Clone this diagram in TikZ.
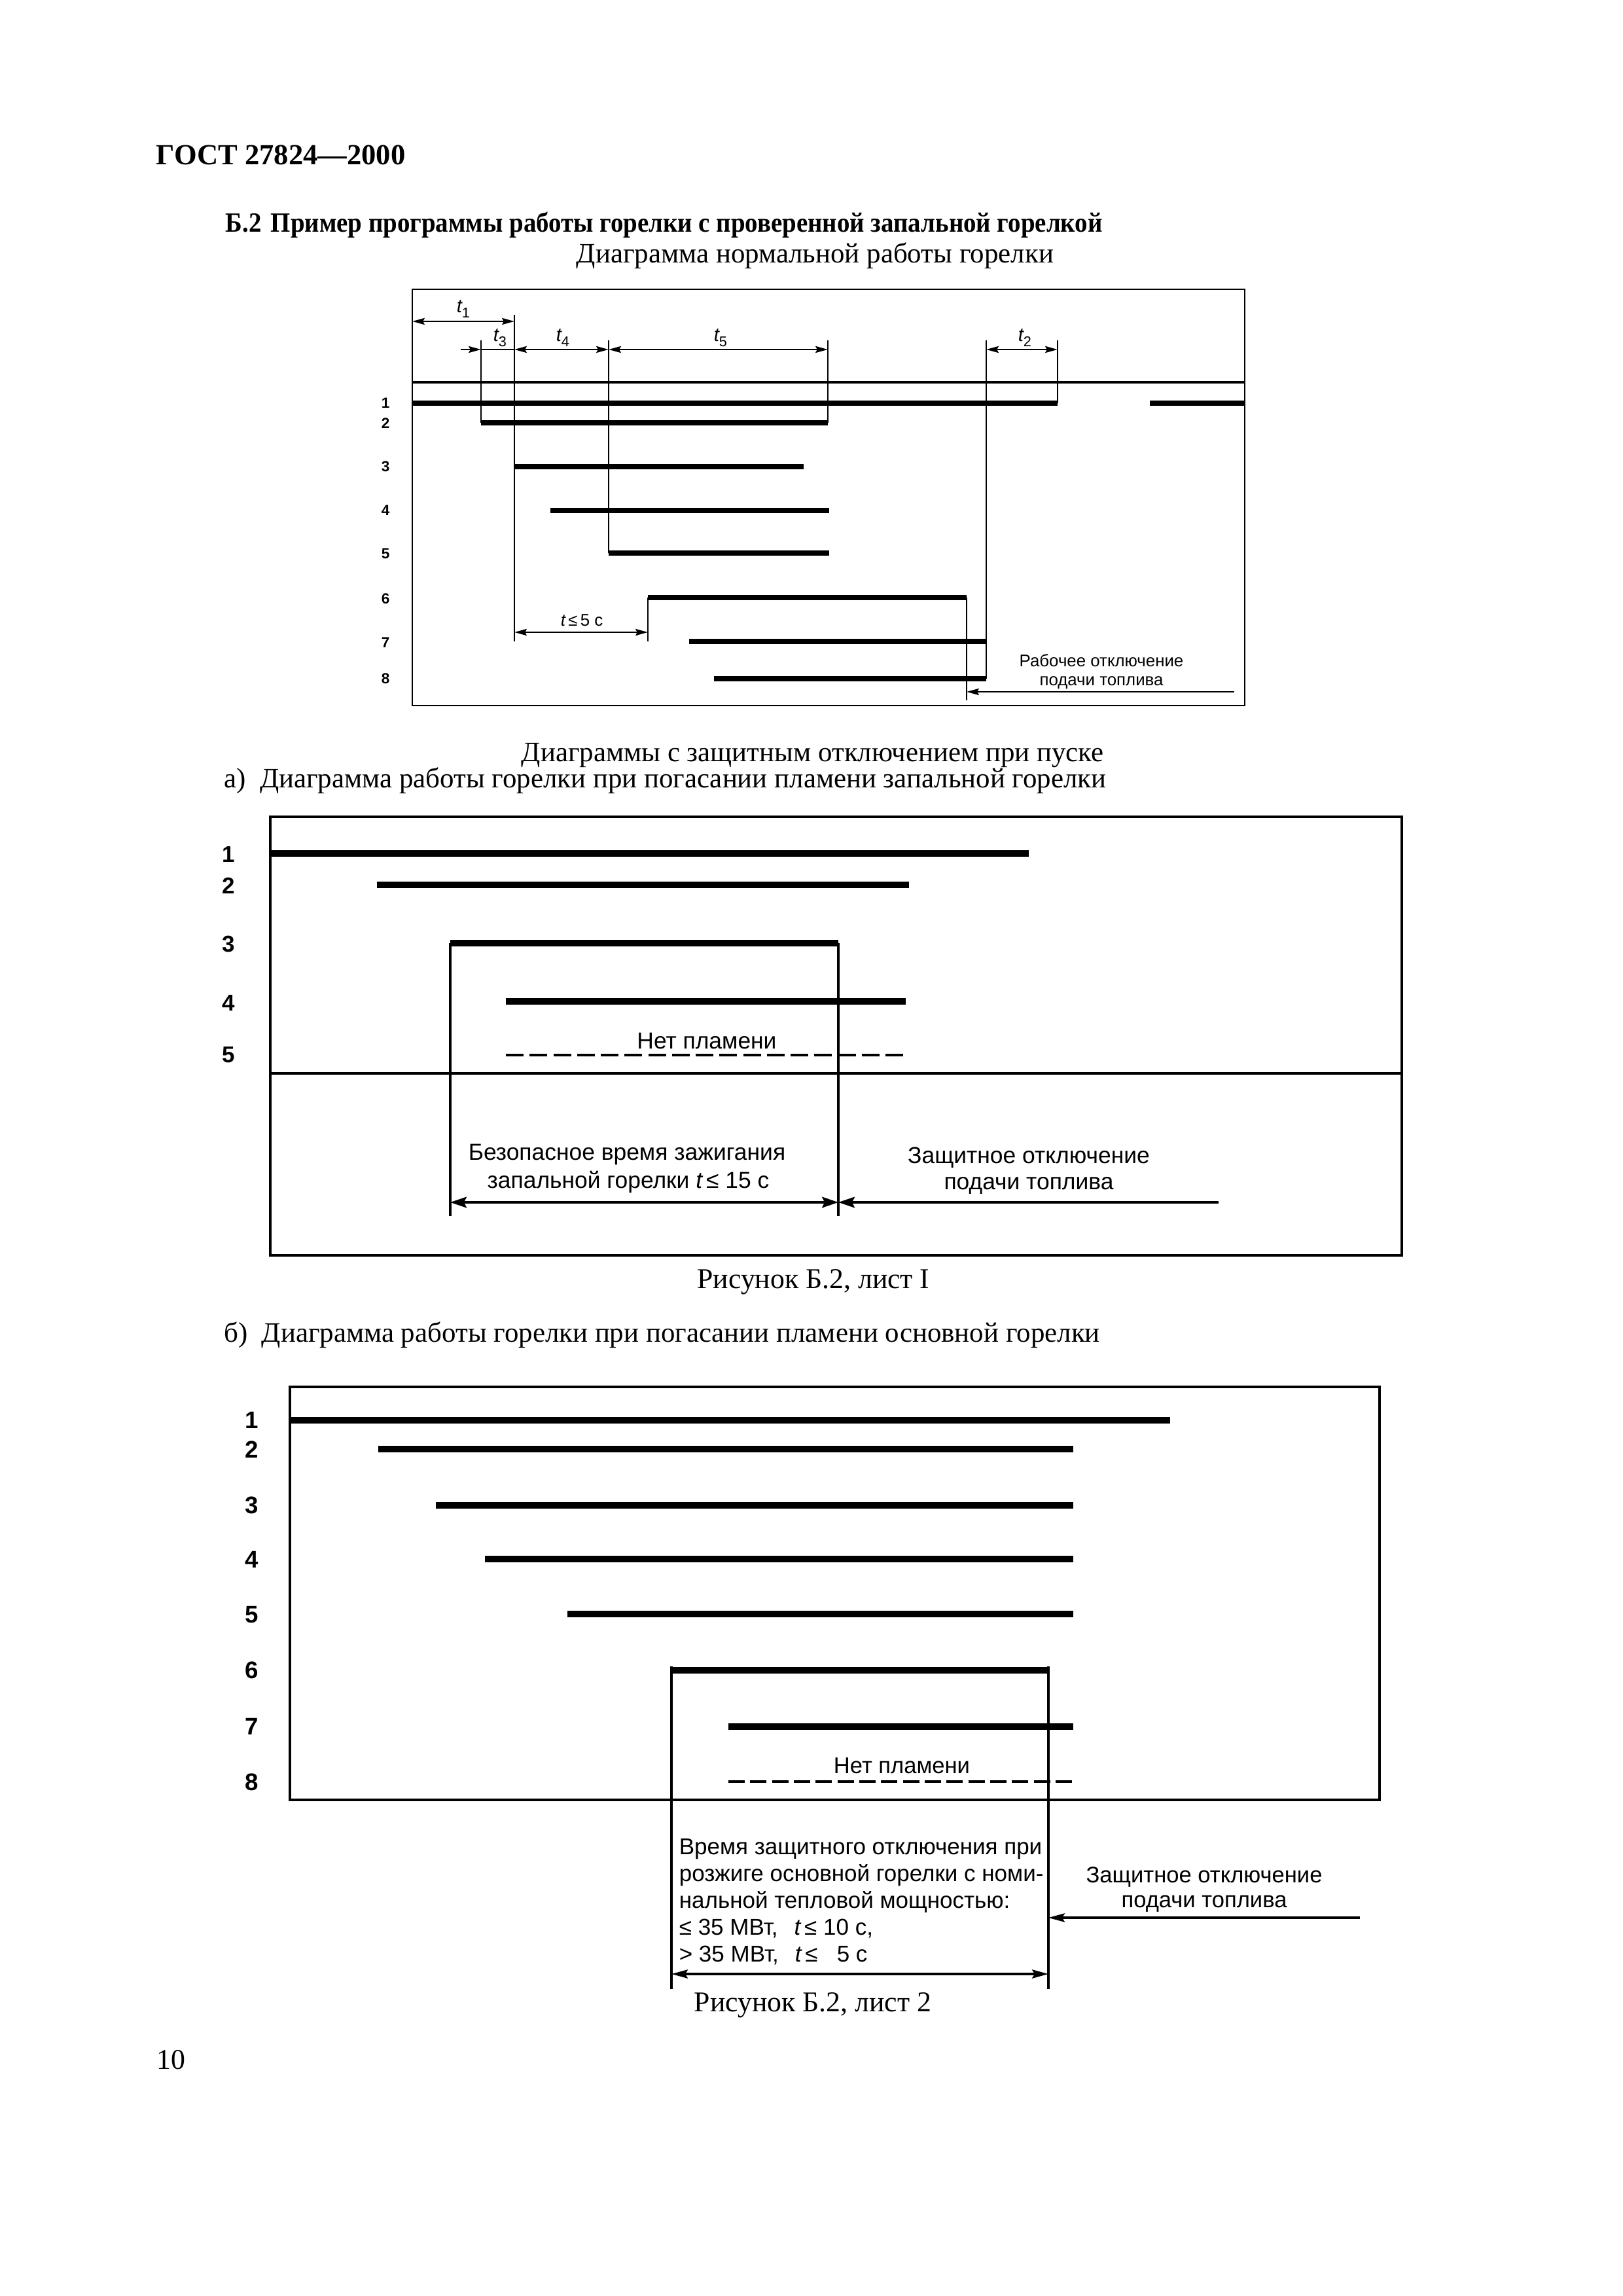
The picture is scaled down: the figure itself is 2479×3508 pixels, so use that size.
\documentclass[tikz,border=0pt]{standalone}
\usepackage{fontspec}
\setmainfont{Liberation Serif}
\newfontfamily\arialf{Liberation Sans}
\newfontfamily\hdfont[FakeStretch=0.915]{Liberation Serif}
\usetikzlibrary{arrows.meta}
\newcommand\tlabel[1]{{\itshape t}\raisebox{-0.5ex}{\fontsize{5.2}{6}\selectfont #1}}
\begin{document}
\begin{tikzpicture}[x=0.24pt,y=-0.24pt,
  frame/.style={line width=0.7pt},
  frameB/.style={line width=0.85pt},
  sep/.style={line width=0.95pt},
  barA/.style={line width=1.75pt},
  barB/.style={line width=2.35pt},
  vthin/.style={line width=0.7pt},
  vthinB/.style={line width=0.75pt},
  dimA/.style={line width=0.65pt,>={Stealth[length=4.5pt,width=2.4pt,inset=0.6pt]}},
  dimB/.style={line width=0.8pt,>={Stealth[length=6pt,width=4pt,inset=1pt]}},
  dimC/.style={line width=0.8pt,>={Stealth[length=6pt,width=3.2pt,inset=1pt]}},
  dashA/.style={line width=1.1pt,dash pattern=on 6.5pt off 2.2pt},
  dashB/.style={line width=1.1pt,dash pattern=on 6pt off 2pt},
  captxt/.style={inner sep=0pt,font=\fontsize{10.5}{12}\selectfont},
  capsm/.style={inner sep=0pt,font=\fontsize{10.3}{12}\selectfont},
  hdtxt/.style={inner sep=0pt,font=\hdfont\bfseries\fontsize{10.2}{12}\selectfont},
  gosttxt/.style={inner sep=0pt,font=\bfseries\fontsize{10.7}{12}\selectfont},
  numA/.style={inner sep=0pt,font=\arialf\bfseries\fontsize{5.4}{6}\selectfont},
  numB/.style={inner sep=0pt,font=\arialf\bfseries\fontsize{8.4}{9}\selectfont},
  numC/.style={inner sep=0pt,font=\arialf\bfseries\fontsize{8.8}{9}\selectfont},
  sA/.style={inner sep=0pt,font=\arialf\fontsize{6.2}{7}\selectfont},
  tl/.style={inner sep=0pt,font=\arialf\fontsize{7}{8}\selectfont},
  sB/.style={inner sep=0pt,font=\arialf\fontsize{8.5}{9}\selectfont},
  sC/.style={inner sep=0pt,font=\arialf\fontsize{8.3}{9}\selectfont},
  sD/.style={inner sep=0pt,font=\arialf\fontsize{8.4}{9}\selectfont}
]
\useasboundingbox (0,0) rectangle (2479,3508);
\fill[white] (0,0) rectangle (2479,3508);

% ---------- headings ----------
\node[gosttxt,anchor=base west] (g) at (238,252) {ГОСТ 27824—2000};
\node[hdtxt,anchor=base west] (h) at (344,355) {Б.2\hspace{3.4pt}Пример программы работы горелки с проверенной запальной горелкой};
\node[capsm,anchor=base west] (c1) at (880,402) {Диаграмма нормальной работы горелки};

% ---------- top diagram ----------
\draw[frame] (630,442) rectangle (1902,1078);
\draw[sep] (630,584) -- (1902,584);
\draw[barA] (630,616) -- (1616,616);
\draw[barA] (1757,616) -- (1902,616);
\draw[barA] (735,646) -- (1265,646);
\draw[barA] (786,713) -- (1228,713);
\draw[barA] (841,780) -- (1267,780);
\draw[barA] (930,845) -- (1267,845);
\draw[barA] (990,913) -- (1477,913);
\draw[barA] (1053,980) -- (1507,980);
\draw[barA] (1091,1037) -- (1507,1037);

\draw[vthin] (786,481) -- (786,980);
\draw[vthin] (735,520) -- (735,646);
\draw[vthin] (930,520) -- (930,845);
\draw[vthin] (1265,520) -- (1265,646);
\draw[vthin] (1507,520) -- (1507,1037);
\draw[vthin] (1616,520) -- (1616,616);
\draw[vthin] (990,913) -- (990,980);
\draw[vthin] (1477,913) -- (1477,1070);

\draw[dimA,<->] (630,491) -- (786,491);
\draw[dimA,->] (704,534) -- (735,534);
\draw[dimA] (735,534) -- (786,534);
\draw[dimA,<->] (786,534) -- (930,534);
\draw[dimA,<->] (930,534) -- (1265,534);
\draw[dimA,<->] (1507,534) -- (1616,534);
\draw[dimA,<->] (786,966) -- (990,966);
\draw[dimA,->] (1886,1057) -- (1477,1057);

\node[tl,anchor=base west] (t1) at (697,478) {\tlabel{1}};
\node[tl,anchor=base west] (t3) at (753,522) {\tlabel{3}};
\node[tl,anchor=base west] (t4) at (849,522) {\tlabel{4}};
\node[tl,anchor=base west] (t5) at (1090,522) {\tlabel{5}};
\node[tl,anchor=base west] (t2) at (1555,522) {\tlabel{2}};
\node[sA,anchor=base] (t5c) at (889,957) {{\itshape t}\,≤\,5 с};
\node[sA,anchor=base] (rab1) at (1683,1018) {Рабочее отключение};
\node[sA,anchor=base] (rab2) at (1683,1047) {подачи топлива};

\node[numA] (n1) at (589,616) {1};
\node[numA] (n2) at (589,647) {2};
\node[numA] (n3) at (589,713) {3};
\node[numA] (n4) at (589,780) {4};
\node[numA] (n5) at (589,846) {5};
\node[numA] (n6) at (589,915) {6};
\node[numA] (n7) at (589,982) {7};
\node[numA] (n8) at (589,1037) {8};

% ---------- captions a) ----------
\node[capsm,anchor=base west] (c2) at (796,1163) {Диаграммы с защитным отключением при пуске};
\node[capsm,anchor=base west] (c3) at (342,1203) {а)\hspace{5pt}Диаграмма работы горелки при погасании пламени запальной горелки};

% ---------- diagram a) ----------
\draw[frameB] (413,1248) rectangle (2142,1918);
\draw[sep] (413,1640) -- (2142,1640);
\draw[barB] (413,1304) -- (1572,1304);
\draw[barB] (576,1352) -- (1389,1352);
\draw[barB] (688,1441) -- (1281,1441);
\draw[barB] (773,1530) -- (1384,1530);
\draw[dashA] (773,1612) -- (1384,1612);
\draw[vthinB] (688,1441) -- (688,1858);
\draw[vthinB] (1281,1441) -- (1281,1858);
\draw[dimB,<->] (688,1837) -- (1281,1837);
\draw[dimB,->] (1862,1837) -- (1281,1837);

\node[numB] (a1) at (349,1305) {1};
\node[numB] (a2) at (349,1353) {2};
\node[numB] (a3) at (349,1442) {3};
\node[numB] (a4) at (349,1532) {4};
\node[numB] (a5) at (349,1612) {5};

\node[sB,anchor=base] (anet) at (1080,1602) {Нет пламени};
\node[sB,anchor=base] (abez1) at (958,1772) {Безопасное время зажигания};
\node[sB,anchor=base] (abez2) at (960,1815) {запальной горелки {\itshape t}\,≤ 15 с};
\node[sB,anchor=base] (azas1) at (1572,1777) {Защитное отключение};
\node[sB,anchor=base] (azas2) at (1572,1817) {подачи топлива};

\node[captxt,anchor=base] (fig1) at (1243,1968) {Рисунок Б.2, лист I};

% ---------- diagram b) ----------
\node[capsm,anchor=base west] (c4) at (342,2050) {б)\hspace{5pt}Диаграмма работы горелки при погасании пламени основной горелки};

\draw[frameB] (443,2119) rectangle (2108,2750);
\draw[barB] (443,2170) -- (1788,2170);
\draw[barB] (578,2214) -- (1640,2214);
\draw[barB] (666,2300) -- (1640,2300);
\draw[barB] (741,2382) -- (1640,2382);
\draw[barB] (867,2466) -- (1640,2466);
\draw[barB] (1026,2552) -- (1602,2552);
\draw[barB] (1113,2638) -- (1640,2638);
\draw[dashB] (1113,2722) -- (1640,2722);
\draw[vthinB] (1026,2546) -- (1026,3039);
\draw[vthinB] (1602,2546) -- (1602,3039);
\draw[dimC,<->] (1026,3016) -- (1602,3016);
\draw[dimC,->] (2078,2930) -- (1602,2930);

\node[numC] (b1) at (385,2170) {1};
\node[numC] (b2) at (385,2215) {2};
\node[numC] (b3) at (385,2300) {3};
\node[numC] (b4) at (385,2383) {4};
\node[numC] (b5) at (385,2467) {5};
\node[numC] (b6) at (385,2552) {6};
\node[numC] (b7) at (385,2638) {7};
\node[numC] (b8) at (385,2723) {8};

\node[sC,anchor=base] (bnet) at (1378,2709) {Нет пламени};
\node[sD,anchor=base west] (bv1) at (1037,2833) {Время защитного отключения при};
\node[sD,anchor=base west] (bv2) at (1037,2874) {розжиге основной горелки с номи-};
\node[sD,anchor=base west] (bv3) at (1037,2915) {нальной тепловой мощностью:};
\node[sD,anchor=base west] (bv4) at (1037,2956) {≤ 35 МВт,\hspace{6pt}{\itshape t}\,≤ 10 с,};
\node[sD,anchor=base west] (bv5) at (1037,2997) {> 35 МВт,\hspace{6pt}{\itshape t}\,≤ \phantom{1}5 с};
\node[sC,anchor=base] (bzas1) at (1840,2876) {Защитное отключение};
\node[sC,anchor=base] (bzas2) at (1840,2914) {подачи топлива};

\node[captxt,anchor=base] (fig2) at (1242,3073) {Рисунок Б.2, лист 2};

\node[captxt,anchor=base west] (pg) at (239,3161) {10};
\end{tikzpicture}
\end{document}
